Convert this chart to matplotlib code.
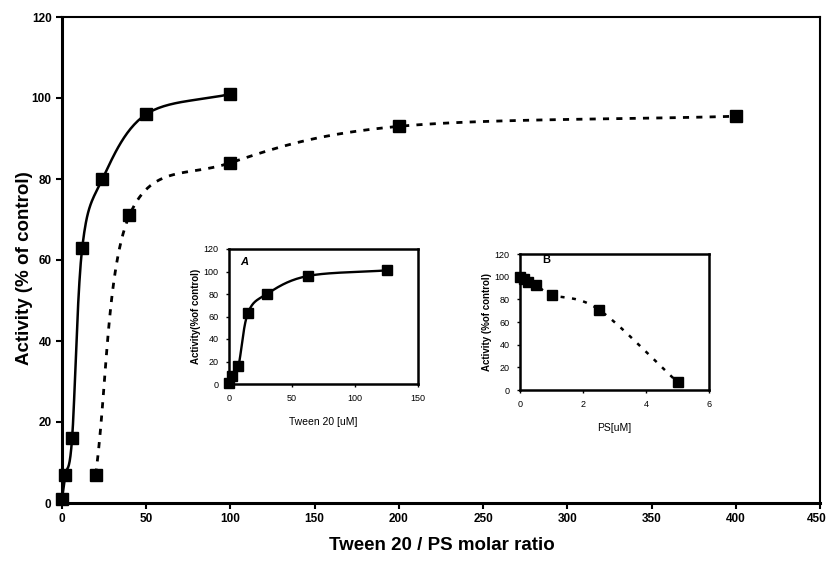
import numpy as np
import matplotlib
matplotlib.use("Agg")
import matplotlib.pyplot as plt
import matplotlib.transforms as mtrans

plt.rcParams['font.family'] = ['Liberation Sans', 'DejaVu Sans']

# main plot: activity vs Tween 20 / PS molar ratio
ratio_tween = [0, 2, 6, 12, 24, 50, 100]
act_tween = [1, 7, 16, 63, 80, 96, 101]
ratio_ps = [20, 40, 100, 200, 400]
act_ps = [7, 71, 84, 93, 95.5]

# inset A: Tween 20 [uM]
tween_um = [0, 2.5, 7.5, 15, 30, 62.5, 125]
act_a = [1, 7, 16, 63, 80, 96, 101]

# inset B: PS [uM]
ps_um = [0, 0.125, 0.25, 0.5, 1, 2.5, 5]
act_b = [100, 98, 95.5, 93, 84, 71, 7]


def smooth(x, y, n=30):
    # catmull-rom style smoothing like excel "smoothed line"
    x = np.asarray(x, float)
    y = np.asarray(y, float)
    px = np.concatenate([[2*x[0]-x[1]], x, [2*x[-1]-x[-2]]])
    py = np.concatenate([[2*y[0]-y[1]], y, [2*y[-1]-y[-2]]])
    xs, ys = [], []
    t = np.linspace(0, 1, n)
    for i in range(1, len(px)-2):
        for p, out in ((px, xs), (py, ys)):
            p0, p1, p2, p3 = p[i-1], p[i], p[i+1], p[i+2]
            c1 = p1 + (p2 - p0)/6
            c2 = p2 - (p3 - p1)/6
            out.extend((1-t)**3*p1 + 3*(1-t)**2*t*c1 + 3*(1-t)*t**2*c2 + t**3*p2)
    return xs, ys


fig = plt.figure(figsize=(8.27, 5.61), dpi=100)
W, H = 827, 561


def box(l, r, t, b):
    return [l/W, 1-b/H, (r-l)/W, (b-t)/H]


ax = fig.add_axes(box(62, 820, 17, 503))
sx, sy = smooth(ratio_tween, act_tween)
ax.plot(sx, sy, color='black', lw=1.8)
ax.plot(ratio_tween, act_tween, 's', color='black', ms=8.5, clip_on=False, zorder=5)
sx, sy = smooth(ratio_ps, act_ps)
ax.plot(sx, sy, color='black', lw=2, ls=(0, (2.2, 2.6)))
ax.plot(ratio_ps, act_ps, 's', color='black', ms=8.5, clip_on=False, zorder=5)
ax.set_xlim(0, 450)
ax.set_ylim(0, 120)
ax.set_xticks(range(0, 451, 50))
ax.set_yticks(range(0, 121, 20))
ax.tick_params(labelsize=8.5, width=1.5, length=4, direction='out')
for lab in ax.get_xticklabels() + ax.get_yticklabels():
    lab.set_fontweight('bold')
# last x label sits at the very edge, nudge it in a bit
last = ax.get_xticklabels()[-1]
last.set_transform(last.get_transform() + mtrans.ScaledTranslation(-3/100, 0, fig.dpi_scale_trans))
ax.spines['left'].set_linewidth(2.2)
ax.spines['bottom'].set_linewidth(2.2)
ax.spines['top'].set_linewidth(1.5)
ax.spines['right'].set_linewidth(1.5)
fig.text(25/W, 1-268/H, 'Activity (% of control)', fontsize=13.5, fontweight='bold',
         rotation=90, ha='center', va='center')
fig.text(442/W, 1-545/H, 'Tween 20 / PS molar ratio', fontsize=13.5, fontweight='bold',
         ha='center', va='center')

# inset A
axa = fig.add_axes(box(229, 418, 249, 384))
sx, sy = smooth(tween_um, act_a)
axa.plot(sx, sy, color='black', lw=1.7)
axa.plot(tween_um, act_a, 's', color='black', ms=6.8, clip_on=False, zorder=5)
axa.set_xlim(0, 150)
axa.set_ylim(0, 120)
axa.set_xticks([0, 50, 100, 150])
axa.set_yticks(range(0, 121, 20))
axa.tick_params(labelsize=6.5, width=1, length=2.5, direction='out', pad=5)
for s in axa.spines.values():
    s.set_linewidth(1.8)
axa.set_xlabel('Tween 20 [uM]', fontsize=7.5, labelpad=10)
axa.set_ylabel('Activity(%of control)', fontsize=7, fontweight='bold', labelpad=2)
axa.text(9, 106, 'A', fontsize=8, fontweight='bold', style='italic')

# inset B
axb = fig.add_axes(box(520, 709, 254, 390))
sx, sy = smooth(ps_um, act_b)
axb.plot(sx, sy, color='black', lw=1.8, ls=(0, (1.6, 3)))
axb.plot(ps_um, act_b, 's', color='black', ms=6.8, clip_on=False, zorder=5)
axb.set_xlim(0, 6)
axb.set_ylim(0, 120)
axb.set_xticks([0, 2, 4, 6])
axb.set_yticks(range(0, 121, 20))
axb.tick_params(labelsize=6.5, width=1, length=2.5, direction='out', pad=5)
for s in axb.spines.values():
    s.set_linewidth(1.8)
axb.set_xlabel('PS[uM]', fontsize=7.5, labelpad=10)
axb.set_ylabel('Activity (%of control)', fontsize=7, fontweight='bold', labelpad=2)
axb.text(0.72, 112, 'B', fontsize=8, fontweight='bold')

fig.savefig('out.png', dpi=100)
